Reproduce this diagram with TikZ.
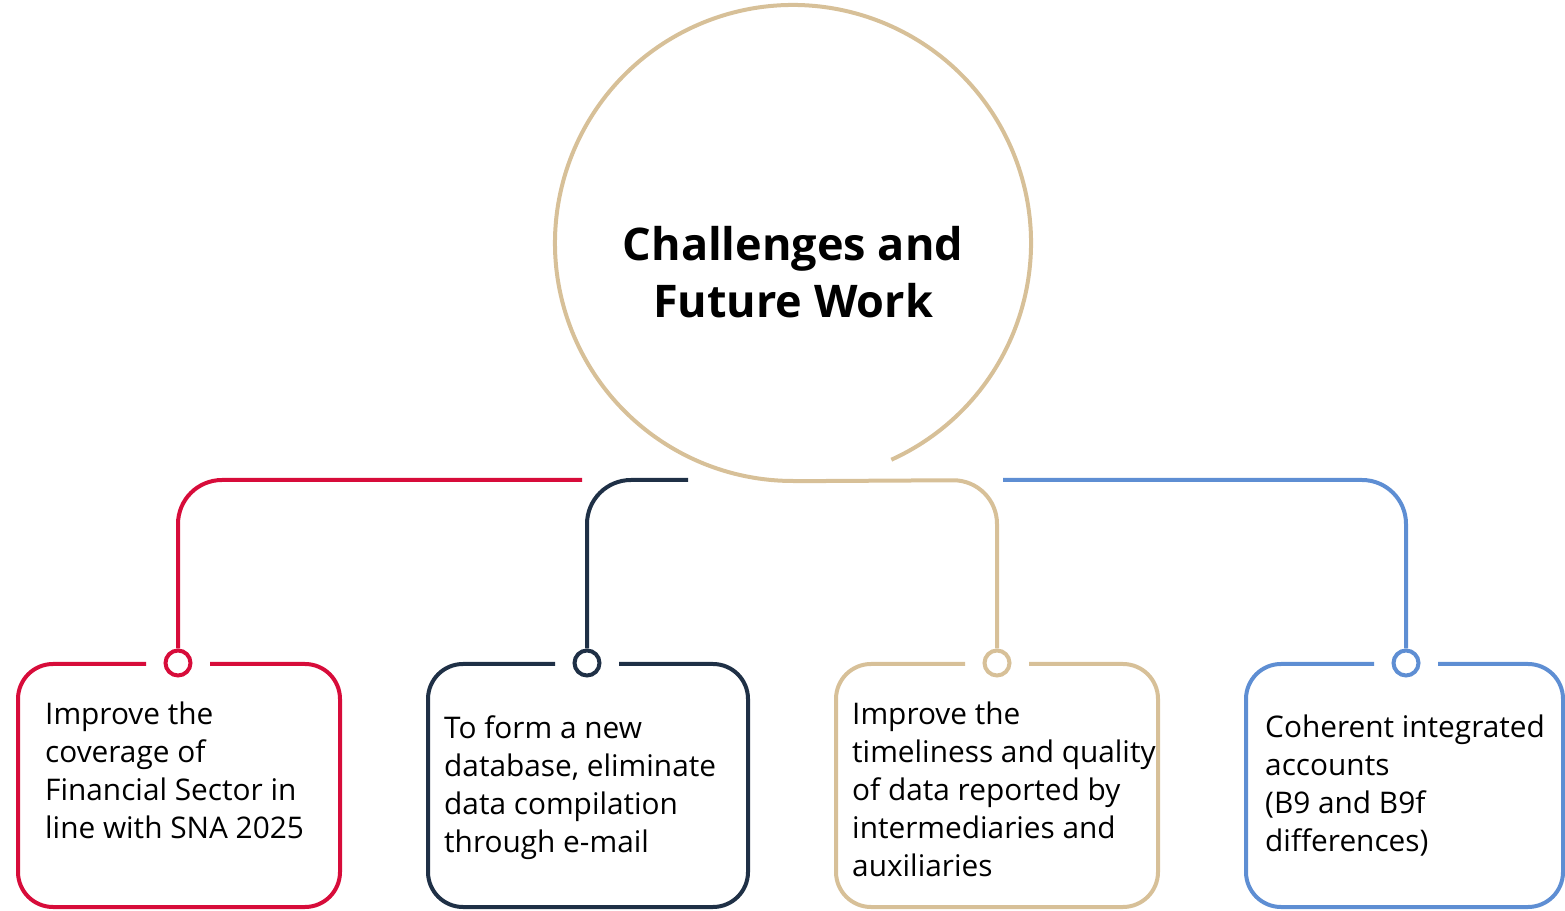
\documentclass[tikz,border=0pt]{standalone}
\usepackage{fontspec}
\setmainfont{Open Sans}
\definecolor{cred}{RGB}{215,12,58}
\definecolor{cnavy}{RGB}{31,48,70}
\definecolor{ctan}{RGB}{215,192,152}
\definecolor{cblue}{RGB}{94,142,211}
\begin{document}
\begin{tikzpicture}[x=1pt,y=1pt,
  line/.style={line width=4pt},
  knob/.style={circle,draw,line width=4pt,fill=white,minimum size=25pt,inner sep=0pt},
  boxtext/.style={anchor=north west,align=left,inner sep=0pt,font=\fontsize{29.8}{38}\selectfont},
  conn/.style={line width=4pt,rounded corners=44pt}]
\useasboundingbox (0,0) rectangle (1565,910);
% big circle
\node[circle,minimum size=476pt,inner sep=0pt] (main) at (793,667) {};
\draw[line,ctan] ([shift={(-65.6:238)}]main.center) arc[start angle=-65.6,end angle=270,radius=238];
\node[font=\fontsize{45}{57}\selectfont\bfseries,align=center] (title) at (793,638) {Challenges and\\Future Work};
% boxes
\foreach \l/\r/\c/\col in {18/340/178/cred,428/748/587/cnavy,836/1158/997/ctan,1246/1563/1406/cblue}{
  \draw[line,\col,rounded corners=35pt] (\c+32,246) -- (\r,246) -- (\r,3) -- (\l,3) -- (\l,246) -- (\c-32,246);
}
% knobs
\node[knob,draw=cred] (k1) at (178,247) {};
\node[knob,draw=cnavy] (k2) at (587,247) {};
\node[knob,draw=ctan] (k3) at (997,247) {};
\node[knob,draw=cblue] (k4) at (1406,247) {};
% connectors
\coordinate (e1) at (582,430);
\coordinate (e2) at (688,430);
\coordinate (e4) at (1003,430);
\draw[conn,cred] (k1.north) -- (178,430) -- (e1);
\draw[conn,cnavy] (k2.north) -- (587,430) -- (e2);
\draw[conn,ctan] (k3.north) -- (997,430) -- (main.south);
\draw[conn,cblue] (k4.north) -- (1406,430) -- (e4);
% texts
\node[boxtext] (t1) at (45,208) {Improve the\\coverage of\\Financial Sector in\\line with SNA 2025};
\node[boxtext] (t2) at (444,195) {To form a new\\database, eliminate\\data compilation\\through e-mail};
\node[boxtext] (t3) at (852,208) {Improve the\\timeliness and quality\\of data reported by\\intermediaries and\\auxiliaries};
\node[boxtext] (t4) at (1265,195) {Coherent integrated\\accounts\\(B9 and B9f\\differences)};
\end{tikzpicture}
\end{document}
